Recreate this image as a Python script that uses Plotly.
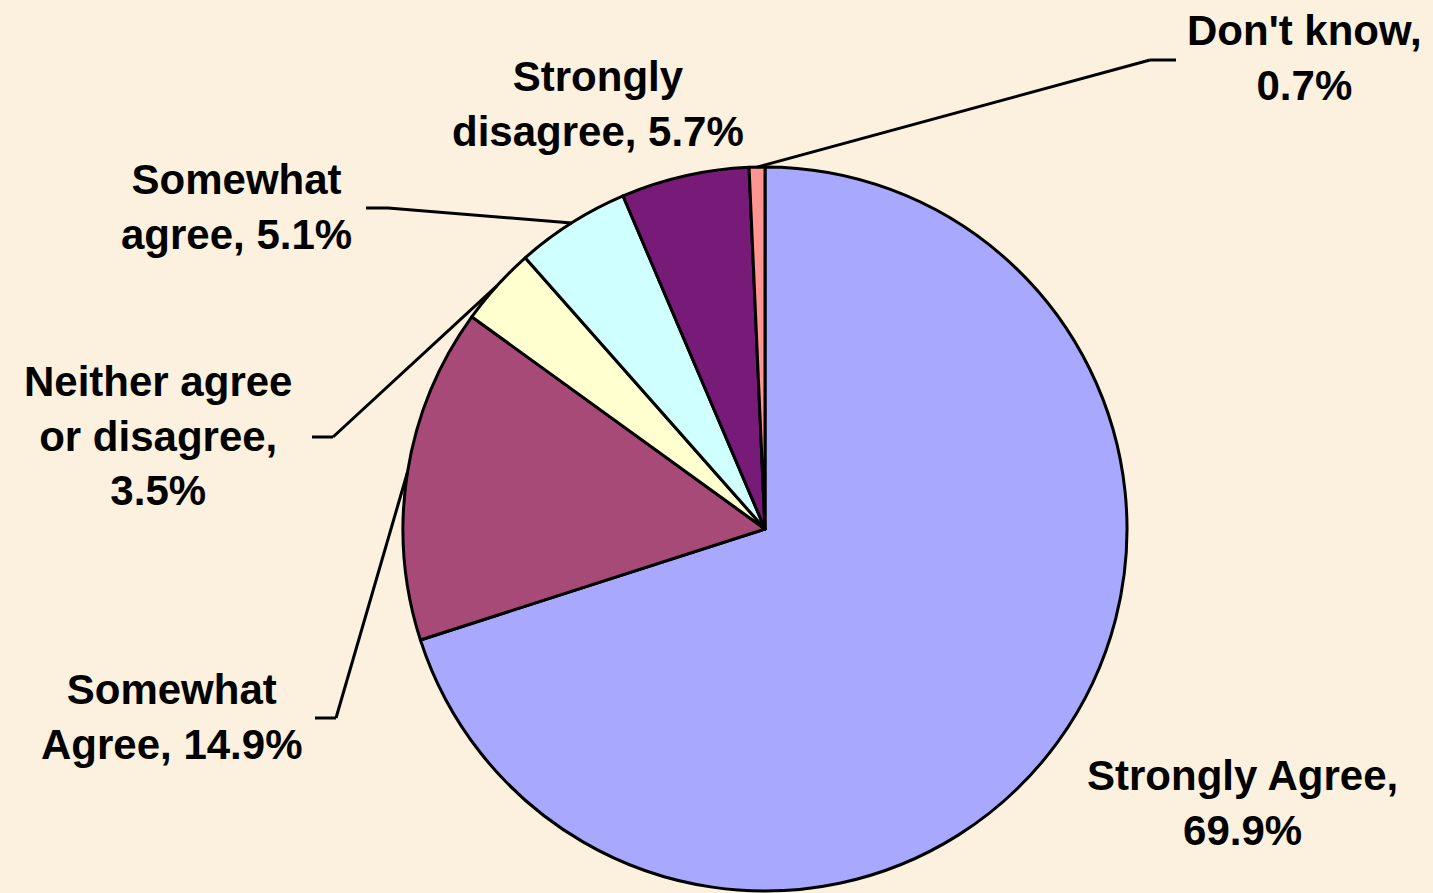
import math
import plotly.graph_objects as go

# Survey responses, in the order they are drawn (clockwise from 12 o'clock)
categories = ["Strongly Agree", "Somewhat Agree", "Neither agree or disagree",
              "Somewhat agree", "Strongly disagree", "Don't know"]
percentages = [69.9, 14.9, 3.5, 5.1, 5.7, 0.7]
label_texts = ["Strongly Agree,<br>69.9%", "Somewhat<br>Agree, 14.9%",
               "Neither agree<br>or disagree,<br>3.5%", "Somewhat<br>agree, 5.1%",
               "Strongly<br>disagree, 5.7%", "Don't know,<br>0.7%"]
slice_colors = ["#A8A8FF", "#A84A78", "#FFFFD0", "#D0FFFF", "#781A78", "#FF9590"]

W, H = 1433, 893
CX, CY, R = 765, 529, 362  # pie centre and radius in pixels

# Label centres (pixels) and leader-line elbows (None = no leader line)
label_pos = [(1242, 803), (171, 717), (158, 436), (236, 207), (598, 104), (1304, 58)]
elbows = [None, ((336, 718), (315, 718)), ((333, 437), (312, 437)),
          ((388, 208), (366, 208)), None, ((1150, 60), (1176, 60))]


def px(x, y):
    return x / W, 1 - y / H


fig = go.Figure()
fig.add_trace(go.Pie(
    labels=categories,
    values=percentages,
    sort=False,
    direction="clockwise",
    rotation=0,
    textinfo="none",
    hoverinfo="label+percent",
    marker=dict(colors=slice_colors, line=dict(color="black", width=3)),
    domain=dict(x=[(CX - R) / W, (CX + R) / W], y=[1 - (CY + R) / H, 1 - (CY - R) / H]),
    showlegend=False,
))

total = sum(percentages)
cum = 0.0
shapes = []
annotations = []
for val, text, (lx, ly), elbow in zip(percentages, label_texts, label_pos, elbows):
    mid = (cum + val / 2) / total * 2 * math.pi
    cum += val
    if elbow is not None:
        sx = CX + R * math.sin(mid)
        sy = CY - R * math.cos(mid)
        pts = [(sx, sy), elbow[0], elbow[1]]
        for (x0, y0), (x1, y1) in zip(pts[:-1], pts[1:]):
            a0, b0 = px(x0, y0)
            a1, b1 = px(x1, y1)
            shapes.append(dict(type="line", xref="paper", yref="paper",
                               x0=a0, y0=b0, x1=a1, y1=b1,
                               line=dict(color="black", width=3)))
    ax, ay = px(lx, ly)
    annotations.append(dict(text=text, x=ax, y=ay, xref="paper", yref="paper",
                            xanchor="center", yanchor="middle", align="center",
                            showarrow=False,
                            font=dict(family="Liberation Sans, Arial", size=42,
                                      color="black", weight="bold")))

fig.update_layout(
    width=W, height=H,
    margin=dict(l=0, r=0, t=0, b=0),
    paper_bgcolor="#FBF1DE",
    plot_bgcolor="#FBF1DE",
    shapes=shapes,
    annotations=annotations,
)

fig.write_html("out.html")
